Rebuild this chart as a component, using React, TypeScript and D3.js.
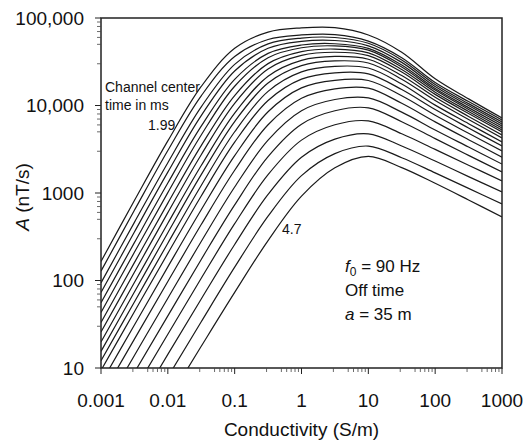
import React from 'react';
import * as d3 from 'd3';

// Conductivity sample points (S/m)
const conductivity = [0.001, 0.00316, 0.01, 0.0316, 0.1, 0.316, 1, 3.16, 10, 31.6, 100, 316, 1000];

// Response amplitude A (nT/s) per channel, earliest (1.99 ms) to latest (4.7 ms)
const ch01 = [165, 820, 3940, 16500, 45100, 69000, 77100, 77600, 64000, 40600, 20200, 11900, 7190];
const ch02 = [128, 634, 3060, 12900, 36300, 56800, 64000, 64700, 54500, 35200, 18300, 11100, 6830];
const ch03 = [94, 462, 2220, 9640, 29500, 50600, 59000, 59900, 51400, 33200, 17400, 10500, 6470];
const ch04 = [72.8, 358, 1730, 7660, 24800, 45100, 54100, 55300, 48100, 31100, 16500, 10000, 6150];
const ch05 = [55.6, 271, 1300, 5800, 19900, 39400, 49100, 50800, 44900, 29000, 15600, 9460, 5840];
const ch06 = [43.2, 210, 1010, 4600, 16600, 35200, 45700, 48000, 42900, 27600, 15000, 9020, 5530];
const ch07 = [33.2, 160, 766, 3480, 13000, 30100, 41300, 44200, 40000, 25800, 14200, 8550, 5250];
const ch08 = [25.8, 124, 596, 2740, 10600, 26200, 37400, 40600, 37200, 24100, 13400, 8110, 4980];
const ch09 = [19.9, 94.8, 451, 2060, 8190, 21600, 32800, 36400, 33800, 22000, 12400, 7500, 4600];
const ch10 = [15.5, 73.8, 352, 1620, 6560, 18100, 28600, 32300, 30600, 20000, 11400, 6930, 4260];
const ch11 = [12.1, 56.9, 267, 1220, 5010, 14500, 24200, 28000, 26800, 17600, 10100, 6200, 3830];
const ch12 = [9.4, 43.9, 204, 925, 3810, 11400, 20000, 23600, 23000, 15200, 8980, 5530, 3440];
const ch13 = [6.72, 31, 143, 643, 2670, 8480, 15900, 19400, 19300, 12900, 7740, 4820, 3020];
const ch14 = [4.68, 21.4, 97.3, 436, 1820, 6030, 12100, 15500, 15800, 10600, 6500, 4070, 2570];
const ch15 = [3.08, 13.9, 62.7, 279, 1170, 4020, 8710, 11700, 12200, 8400, 5250, 3350, 2140];
const ch16 = [1.99, 8.87, 39.4, 174, 731, 2610, 6120, 8710, 9400, 6530, 4180, 2690, 1740];
const ch17 = [1.25, 5.52, 24.3, 106, 446, 1620, 4020, 6030, 6670, 4750, 3150, 2080, 1370];
const ch18 = [0.75, 3.27, 14.3, 61.5, 258, 962, 2560, 4130, 4750, 3450, 2320, 1540, 1030];
const ch19 = [0.42, 1.83, 7.89, 33.8, 142, 543, 1580, 2820, 3440, 2530, 1700, 1130, 748];
const ch20 = [0.24, 1.0, 4.22, 17.7, 73.1, 286, 920, 1940, 2620, 1950, 1290, 832, 532];

const channels = [ch01, ch02, ch03, ch04, ch05, ch06, ch07, ch08, ch09, ch10,
  ch11, ch12, ch13, ch14, ch15, ch16, ch17, ch18, ch19, ch20];

const xTicks = [0.001, 0.01, 0.1, 1, 10, 100, 1000];
const xTickLabels = ['0.001', '0.01', '0.1', '1', '10', '100', '1000'];
const yTicks = [10, 100, 1000, 10000, 100000];
const yTickLabels = ['10', '100', '1000', '10,000', '100,000'];
const minorMultiples = [3, 5, 6, 7, 8, 9];

const W = 525;
const H = 441;
const M = { left: 101, right: 23, top: 18, bottom: 73 };
const FONT = "'Liberation Sans', Arial, Helvetica, sans-serif";

export default function App() {
  const x = d3.scaleLog().domain([0.001, 1000]).range([M.left, W - M.right]);
  const y = d3.scaleLog().domain([10, 100000]).range([H - M.bottom, M.top]);

  const line = d3.line<number>()
    .x((_, i) => x(conductivity[i]))
    .y((d) => y(d))
    .curve(d3.curveCatmullRom.alpha(0.5));

  const x0 = M.left, x1 = W - M.right, y0 = H - M.bottom, y1 = M.top;

  const xMinor: number[] = [];
  xTicks.slice(0, -1).forEach((b) => minorMultiples.forEach((m) => xMinor.push(b * m)));
  const yMinor: number[] = [];
  yTicks.slice(0, -1).forEach((b) => minorMultiples.forEach((m) => yMinor.push(b * m)));

  return (
    <svg width={W} height={H} style={{ position: 'absolute', left: 0, top: 0, background: '#fff' }}
      fontFamily={FONT}>
      <defs>
        <clipPath id="plotClip">
          <rect x={x0} y={y1} width={x1 - x0} height={y0 - y1} />
        </clipPath>
      </defs>
      <rect x={0} y={0} width={W} height={H} fill="#fff" />

      <g clipPath="url(#plotClip)">
        {channels.map((c, i) => (
          <path key={i} d={line(c) || ''} fill="none" stroke="#1a1a1a" strokeWidth={1.2} />
        ))}
      </g>

      {/* frame */}
      <rect x={x0} y={y1} width={x1 - x0} height={y0 - y1} fill="none" stroke="#222" strokeWidth={1.5} />

      {/* y ticks */}
      {yTicks.map((t, i) => (
        <g key={'yt' + i}>
          <line x1={x0 - 6} x2={x0} y1={y(t)} y2={y(t)} stroke="#222" strokeWidth={1} />
          <text x={84} y={y(t)} dy="0.36em" textAnchor="end" fontSize={19} fill="#111">{yTickLabels[i]}</text>
        </g>
      ))}
      {yMinor.map((t, i) => (
        <line key={'ym' + i} x1={x0 - 4} x2={x0} y1={y(t)} y2={y(t)} stroke="#444" strokeWidth={0.8} />
      ))}

      {/* x ticks */}
      {xTicks.map((t, i) => (
        <g key={'xt' + i}>
          <line x1={x(t)} x2={x(t)} y1={y0} y2={y0 + 6} stroke="#222" strokeWidth={1} />
          <text x={x(t)} y={407} textAnchor="middle" fontSize={19} fill="#111">{xTickLabels[i]}</text>
        </g>
      ))}
      {xMinor.map((t, i) => (
        <line key={'xm' + i} x1={x(t)} x2={x(t)} y1={y0} y2={y0 + 4} stroke="#444" strokeWidth={0.8} />
      ))}

      {/* axis titles */}
      <text x={(x0 + x1) / 2} y={436} textAnchor="middle" fontSize={19} fill="#111">Conductivity (S/m)</text>
      <text transform={`translate(29,197) rotate(-90)`} textAnchor="middle" fontSize={19} fill="#111">
        <tspan fontStyle="italic">A</tspan> (nT/s)
      </text>

      {/* annotations */}
      <text x={105} y={92} fontSize={14} fill="#111">Channel center</text>
      <text x={105} y={110} fontSize={14} fill="#111">time in ms</text>
      <text x={148} y={130} fontSize={14} fill="#111">1.99</text>
      <text x={282} y={234} fontSize={14} fill="#111">4.7</text>

      <text x={345} y={272} fontSize={17} fill="#111">
        <tspan fontStyle="italic">f</tspan>
        <tspan fontSize={12} dy={4}>0</tspan>
        <tspan dy={-4}> = 90 Hz</tspan>
      </text>
      <text x={345} y={296} fontSize={17} fill="#111">Off time</text>
      <text x={345} y={320} fontSize={17} fill="#111">
        <tspan fontStyle="italic">a</tspan> = 35 m
      </text>
    </svg>
  );
}
